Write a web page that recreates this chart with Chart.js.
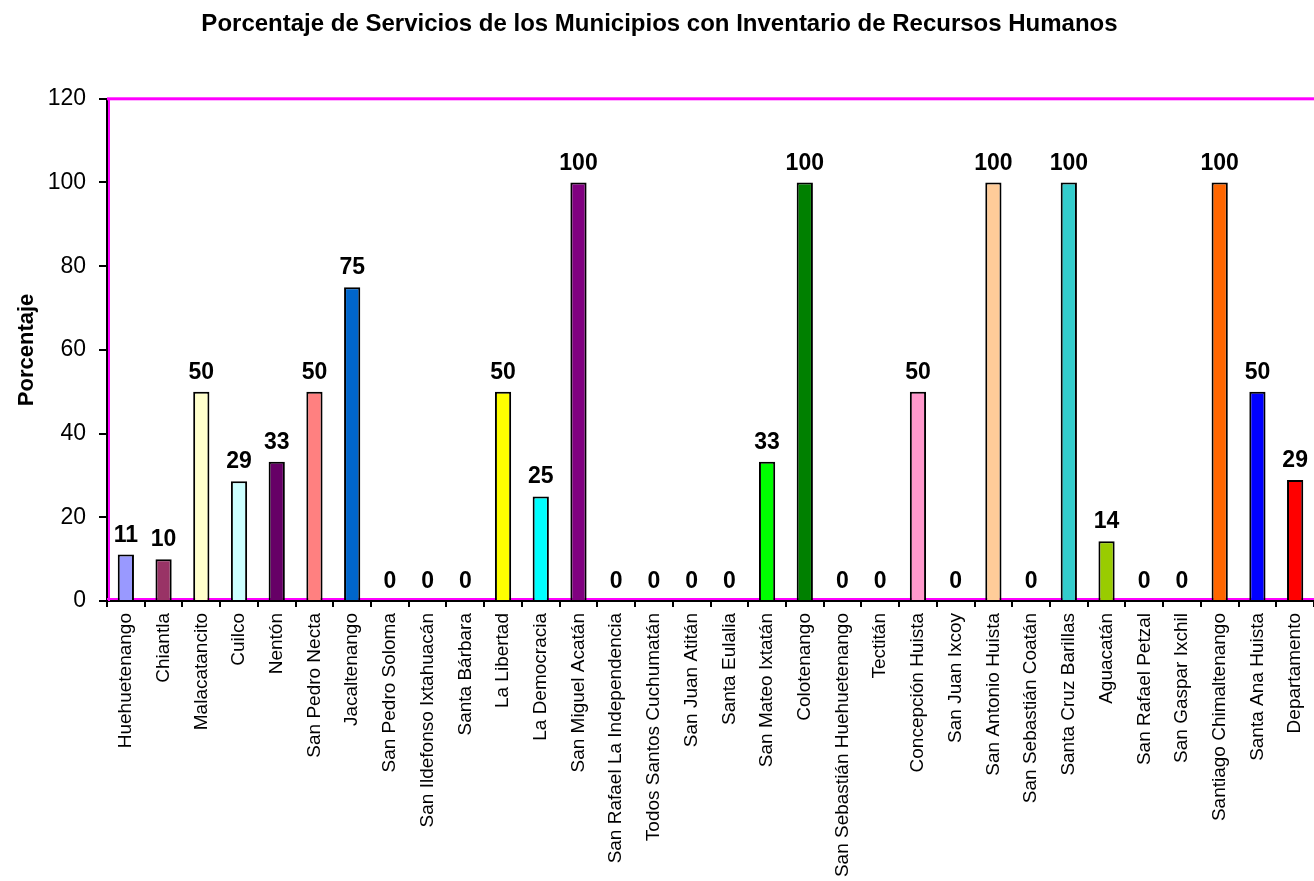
<!DOCTYPE html>
<html>
<head>
<meta charset="utf-8">
<script src="https://cdn.jsdelivr.net/npm/chart.js@4/dist/chart.umd.min.js"></script>
<style>
  html, body { margin: 0; padding: 0; background: #fff; overflow: hidden; }
  #wrap { width: 1314px; height: 881px; }
</style>
</head>
<body>
<div id="wrap"><canvas id="chartServicios" width="1314" height="881"></canvas></div>
<script>
// Municipios y porcentajes
const municipios = [
  'Huehuetenango', 'Chiantla', 'Malacatancito', 'Cuilco', 'Nentón', 'San Pedro Necta',
  'Jacaltenango', 'San Pedro Soloma', 'San Ildefonso Ixtahuacán', 'Santa Bárbara',
  'La Libertad', 'La Democracia', 'San Miguel Acatán', 'San Rafael La Independencia',
  'Todos Santos Cuchumatán', 'San Juan Atitán', 'Santa Eulalia', 'San Mateo Ixtatán',
  'Colotenango', 'San Sebastián Huehuetenango', 'Tectitán', 'Concepción Huista',
  'San Juan Ixcoy', 'San Antonio Huista', 'San Sebastián Coatán', 'Santa Cruz Barillas',
  'Aguacatán', 'San Rafael Petzal', 'San Gaspar Ixchil', 'Santiago Chimaltenango',
  'Santa Ana Huista', 'Departamento'
];
const porcentajes = [
  11.1, 10, 50, 28.6, 33.3, 50,
  75, 0, 0, 0,
  50, 25, 100, 0,
  0, 0, 0, 33.3,
  100, 0, 0, 50,
  0, 100, 0, 100,
  14.3, 0, 0, 100,
  50, 28.9
];
const colores = [
  '#9999FF', '#993366', '#FFFFCC', '#CCFFFF', '#660066', '#FF8080',
  '#0066CC', '#CCCCFF', '#000080', '#FF00FF',
  '#FFFF00', '#00FFFF', '#800080', '#800000',
  '#008080', '#0000FF', '#00CCFF', '#00FF00',
  '#008000', '#FFFF99', '#99CCFF', '#FF99CC',
  '#CC99FF', '#FFCC99', '#3366FF', '#33CCCC',
  '#99CC00', '#FFCC00', '#FF9900', '#FF6600',
  '#0000FF', '#FF0000'
];
const yTicks = [0, 20, 40, 60, 80, 100, 120];

const FONT = "'Liberation Sans', Arial, sans-serif";

// marco magenta del area de trazado
const marco = {
  id: 'marco',
  beforeDatasetsDraw(chart) {
    const { ctx, chartArea: a } = chart;
    ctx.save();
    ctx.fillStyle = '#FF00FF';
    ctx.fillRect(a.left, a.top - 1.5, a.right - a.left, 3);
    ctx.fillRect(a.left + 1, a.top, 2, a.bottom - a.top);
    ctx.fillRect(a.left, a.bottom - 3, a.right - a.left, 2);
    ctx.restore();
  }
};

// etiquetas de valor encima de cada barra
const etiquetas = {
  id: 'etiquetas',
  afterDatasetsDraw(chart) {
    const { ctx } = chart;
    const meta = chart.getDatasetMeta(0);
    ctx.save();
    ctx.font = 'bold 23px ' + FONT;
    ctx.fillStyle = '#000';
    ctx.textAlign = 'center';
    ctx.textBaseline = 'alphabetic';
    meta.data.forEach((bar, i) => {
      ctx.fillText(String(Math.round(porcentajes[i])), bar.x, bar.y - 13);
    });
    ctx.restore();
  }
};

new Chart(document.getElementById('chartServicios'), {
  type: 'bar',
  data: {
    labels: municipios,
    datasets: [{
      label: 'Porcentaje',
      data: porcentajes,
      backgroundColor: colores,
      borderColor: '#000',
      borderWidth: 2,
      categoryPercentage: 1,
      barPercentage: 0.43
    }]
  },
  plugins: [marco, etiquetas],
  options: {
    responsive: false,
    animation: false,
    // el area de trazado sigue un poco mas alla del borde derecho
    layout: { padding: { left: 0, top: 0, bottom: 0, right: -5 } },
    plugins: {
      legend: { display: false },
      tooltip: { enabled: false },
      title: {
        display: true,
        text: 'Porcentaje de Servicios de los Municipios con Inventario de Recursos Humanos',
        color: '#000',
        font: { family: FONT, size: 24, weight: 'bold' },
        padding: { top: 10, bottom: 60 }
      }
    },
    scales: {
      x: {
        offset: true,
        border: { display: true, color: '#000', width: 2 },
        grid: { display: true, drawOnChartArea: false, drawTicks: true, tickLength: 6, color: '#000', lineWidth: 2, offset: true },
        ticks: {
          autoSkip: false,
          maxRotation: 90,
          minRotation: 90,
          padding: 6,
          color: '#000',
          font: { family: FONT, size: 19 }
        },
        afterFit(scale) {
          scale.height = 280;
          scale.paddingLeft = 0;
          scale.paddingRight = 0;
        }
      },
      y: {
        min: 0,
        max: 120,
        afterBuildTicks(scale) { scale.ticks = yTicks.map(v => ({ value: v })); },
        border: { display: true, color: '#000', width: 2 },
        grid: { display: true, drawOnChartArea: false, drawTicks: true, tickLength: 8, color: '#000', lineWidth: 2 },
        ticks: {
          padding: 13,
          color: '#000',
          font: { family: FONT, size: 23 }
        },
        title: {
          display: true,
          text: 'Porcentaje',
          color: '#000',
          font: { family: FONT, size: 22, weight: 'bold' },
          padding: { top: 14, bottom: 0 }
        },
        afterFit(scale) { scale.width = 107; }
      }
    }
  }
});
</script>
</body>
</html>
